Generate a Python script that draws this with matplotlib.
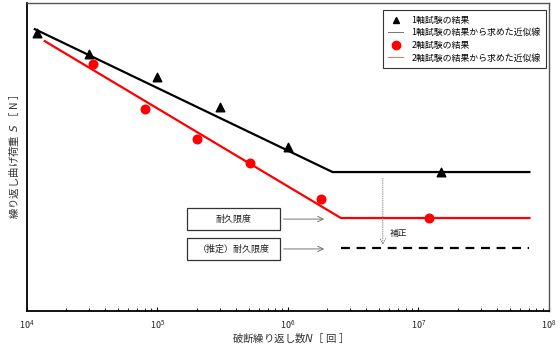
import matplotlib
matplotlib.use("Agg")
import matplotlib.pyplot as plt
from matplotlib.lines import Line2D
from matplotlib.patches import Rectangle

plt.rcParams['font.family'] = ['Noto Sans CJK JP', 'DejaVu Sans']
plt.rcParams['mathtext.fontset'] = 'dejavusans'

# 1軸試験 (uniaxial) results
uni_N = [1.2e4, 3.0e4, 1.0e5, 3.0e5, 1.0e6, 1.5e7]
uni_S = [278, 257, 234, 204, 164, 139]
# 1軸 approximation line (start, knee, end)
uni_fit_N = [1.15e4, 2.2e6, 7.1e7]
uni_fit_S = [282, 139, 139]

# 2軸試験 (biaxial) results
bi_N = [3.2e4, 8.0e4, 2.0e5, 5.1e5, 1.8e6, 1.2e7]
bi_S = [247, 202, 172, 148, 112, 93]
# 2軸 approximation line
bi_fit_N = [1.37e4, 2.55e6, 7.1e7]
bi_fit_S = [270, 93, 93]

# estimated endurance limit (dashed)
est_N = [2.55e6, 7.1e7]
est_S = [63, 63]

legend_labels = ["1軸試験の結果", "1軸試験の結果から求めた近似線",
                 "2軸試験の結果", "2軸試験の結果から求めた近似線"]

fig = plt.figure(figsize=(5.6, 3.49), dpi=100)
ax = fig.add_axes([0.048, 0.109, 0.932, 0.882])

ax.plot(uni_fit_N, uni_fit_S, color='black', lw=1.6, zorder=2)
ax.plot(bi_fit_N, bi_fit_S, color='#ff0000', lw=1.6, zorder=2)
ax.plot(est_N, est_S, color='black', lw=1.6, ls=(0, (4, 3)), zorder=2)
ax.scatter(uni_N, uni_S, marker='^', s=38, color='black', zorder=3)
ax.scatter(bi_N, bi_S, marker='o', s=38, color='#ff0000', zorder=3)

ax.set_xscale('log')
ax.set_xlim(1e4, 1e8)
ax.set_ylim(0, 308)
ax.set_yticks([])
ax.tick_params(axis='x', which='both', direction='in', labelsize=6.5,
               top=False, pad=5, colors='black', labelcolor='#222222')
ax.tick_params(axis='x', which='major', length=3)
ax.tick_params(axis='x', which='minor', length=2)
for s in ax.spines.values():
    s.set_linewidth(1.0)
ax.spines['left'].set_linewidth(1.3)
ax.spines['bottom'].set_linewidth(1.3)
ax.spines['right'].set_color('#555555')
ax.spines['top'].set_color('#555555')

ax.set_xlabel("破断繰り返し数$\\it{N}$［ 回 ］", fontsize=7.5, color='#333333', labelpad=1)
ax.set_ylabel("繰り返し曲げ荷重  $\\it{S}$ ［ N ］", fontsize=7.5, color='#333333', labelpad=4)

# legend
handles = [
    Line2D([], [], marker='^', color='black', ls='none', markersize=5),
    Line2D([], [], color='#777777', lw=0.7),
    Line2D([], [], marker='o', color='#ff0000', ls='none', markersize=6),
    Line2D([], [], color='#ff6666', lw=0.7),
]
leg = ax.legend(handles, legend_labels, loc='upper right', fontsize=6.4,
                frameon=True, fancybox=False, edgecolor='black',
                handlelength=1.6, handletextpad=1.0, labelspacing=0.4,
                borderpad=0.6, borderaxespad=0.3, bbox_to_anchor=(1.0, 0.985))
leg.get_frame().set_linewidth(0.8)

# annotation boxes and arrows (axes fraction)
boxes = [("耐久限度", 0.334, 0.263), ("（推定）耐久限度", 0.237, 0.166)]
for text, top, bot in boxes:
    ax.add_patch(Rectangle((0.3065, bot), 0.178, top - bot, transform=ax.transAxes,
                           facecolor='white', edgecolor='#333333', lw=0.9, zorder=4))
    ax.text(0.3955, (top + bot) / 2, text, transform=ax.transAxes, fontsize=6.5,
            ha='center', va='center', color='#222222', zorder=5)
    ax.annotate("", xy=(0.575, (top + bot) / 2), xytext=(0.4865, (top + bot) / 2),
                xycoords='axes fraction',
                arrowprops=dict(arrowstyle='->', color='#777777', lw=0.7))

# correction arrow
ax.annotate("", xy=(0.682, 0.205), xytext=(0.682, 0.44), xycoords='axes fraction',
            arrowprops=dict(arrowstyle='->', color='#777777', lw=0.6, ls=':'))
ax.text(0.695, 0.253, "補正", transform=ax.transAxes, fontsize=6.3,
        ha='left', va='center', color='#222222')

fig.savefig("out.png", dpi=100)
